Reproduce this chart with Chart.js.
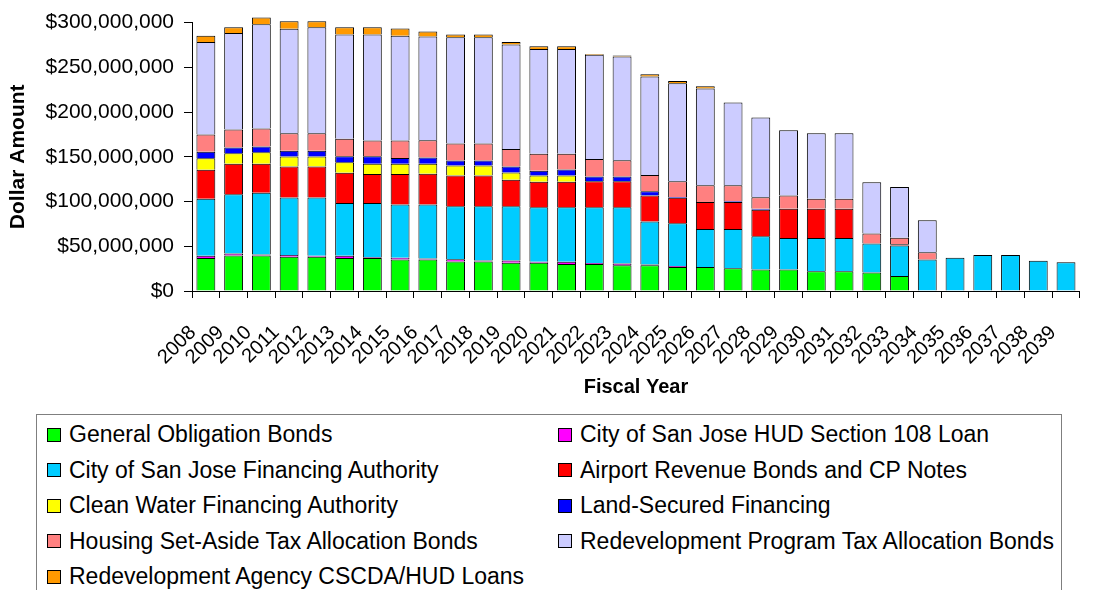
<!DOCTYPE html>
<html>
<head>
<meta charset="utf-8">
<script src="https://cdn.jsdelivr.net/npm/chart.js@4.4.1/dist/chart.umd.min.js"></script>
<style>
    html, body { margin: 0; padding: 0; width: 1098px; height: 590px; overflow: hidden; background: #fff; }
    #wrap { position: absolute; left: 0; top: 0; width: 1106px; height: 400px; }
    #legend {
        position: absolute; left: 36px; top: 414px; width: 1026px; height: 200px;
        border: 1px solid #7f7f7f; box-sizing: border-box;
        padding: 2px 0 0 10px;
        display: grid; grid-template-columns: 511px 1fr; grid-auto-rows: 35.5px;
        font-family: "Liberation Sans", Arial, sans-serif; font-size: 23px; color: #000;
    }
    .item { display: flex; align-items: center; white-space: nowrap; }
    .box { width: 12px; height: 12px; border: 1px solid #000; margin-right: 8px; flex: none; }
</style>
</head>
<body>
<div id="wrap"><canvas id="myChart"></canvas></div>
<div id="legend"></div>
<script>
// values in millions of dollars
const years = ['2008', '2009', '2010', '2011', '2012', '2013', '2014', '2015', '2016', '2017', '2018',
    '2019', '2020', '2021', '2022', '2023', '2024', '2025', '2026', '2027', '2028', '2029',
    '2030', '2031', '2032', '2033', '2034', '2035', '2036', '2037', '2038', '2039'];

const generalObligation = [36.8, 39.8, 39.8, 38.3, 38.3, 36.8, 36.8, 35.3, 35.3, 33.1, 33.1, 31.7, 31.7, 30.2, 30.2, 28.7,
    28.7, 26.9, 26.9, 25.4, 23.9, 23.9, 22.1, 22.1, 20.6, 16.9, null, null, null, null, null, null];
const hudSection108 = [2.5, 2.0, 1.0, 2.0, 1.0, 2.5, 1.0, 2.0, 1.0, 2.5, 1.0, 2.5, 1.0, 2.5, 1.0, 2.0,
    1.0, 1.0, null, null, null, null, null, null, null, null, null, null, null, null, null, null];
const financingAuthority = [63.7, 66.4, 68.9, 64.3, 65.3, 59.0, 60.5, 59.5, 60.5, 59.0, 60.5, 60.4, 60.8, 60.8, 62.3, 62.8,
    48.0, 47.9, 42.3, 43.8, 37.2, 35.4, 37.2, 37.2, 32.4, 33.9, 35.3, 37.2, 40.1, 40.1, 33.9, 32.0];
const airport = [32.5, 33.9, 32.4, 34.6, 34.6, 33.9, 32.4, 33.9, 34.3, 34.6, 34.6, 29.8, 28.7, 28.7, 29.1, 29.1,
    29.1, 28.4, 30.2, 30.2, 29.8, 32.7, 32.7, 32.7, null, 1.5, null, null, null, null, null, null];
const cleanWater = [12.9, 11.8, 12.9, 11.0, 11.0, 11.8, 11.4, 11.4, 11.0, 11.1, 11.1, 8.1, 7.0, 7.0, null, null,
    null, null, null, null, null, null, null, null, null, null, null, null, null, null, null, null];
const landSecured = [7.3, 6.6, 6.6, 6.6, 6.6, 6.6, 8.5, 6.6, 7.0, 5.5, 5.5, 6.7, 5.2, 6.7, 5.5, 5.5,
    4.8, 1.0, null, 1.0, 1.0, null, null, null, null, null, null, null, null, null, null, null];
const housingSetAside = [19.2, 19.9, 19.9, 19.6, 19.6, 19.5, 17.7, 19.6, 19.5, 19.1, 19.1, 19.5, 19.1, 17.6, 19.5, 18.1,
    18.0, 17.6, 18.8, 17.8, 13.0, 14.8, 11.1, 11.1, 11.4, 7.3, 8.1, null, null, null, null, null];
const redevelopmentTab = [103.4, 107.9, 116.7, 116.7, 118.5, 116.7, 118.5, 117.0, 116.0, 118.6, 118.6, 116.7, 117.1, 117.1, 116.4, 116.0,
    110.1, 109.4, 108.2, 92.4, 89.1, 72.9, 73.3, 73.3, 57.1, 56.7, 35.8, null, null, null, null, null];
const cscdaHud = [7.0, 6.6, 7.4, 8.4, 6.6, 8.1, 8.1, 8.1, 5.5, 3.3, 3.3, 3.0, 3.0, 3.0, 1.0, 1.0,
    2.5, 2.5, 2.5, null, null, null, null, null, null, null, null, null, null, null, null, null];

const yTicks = [0, 50, 100, 150, 200, 250, 300];

const font = '"Liberation Sans", Arial, sans-serif';

const series = [
    ['General Obligation Bonds', generalObligation, '#00ff00'],
    ['City of San Jose HUD Section 108 Loan', hudSection108, '#ff00ff'],
    ['City of San Jose Financing Authority', financingAuthority, '#00ccff'],
    ['Airport Revenue Bonds and CP Notes', airport, '#ff0000'],
    ['Clean Water Financing Authority', cleanWater, '#ffff00'],
    ['Land-Secured Financing', landSecured, '#0000ff'],
    ['Housing Set-Aside Tax Allocation Bonds', housingSetAside, '#ff8080'],
    ['Redevelopment Program Tax Allocation Bonds', redevelopmentTab, '#ccccff'],
    ['Redevelopment Agency CSCDA/HUD Loans', cscdaHud, '#ff9900'],
];

const dollars = (v) => '$' + String(Math.round(v * 1000000)).replace(/\B(?=(\d{3})+(?!\d))/g, ',');

let ctx = document.getElementById('myChart');
let myChart = new Chart(ctx, {
    type: 'bar',
    data: {
        labels: years,
        datasets: series.map(s => ({
            label: s[0],
            data: s[1],
            backgroundColor: s[2],
            borderColor: '#000',
            borderWidth: 1,
            barPercentage: 0.68,
            categoryPercentage: 1,
            clip: false
        }))
    },
    options: {
        responsive: true,
        maintainAspectRatio: false,
        animation: false,
        layout: { padding: { top: 19.5, right: 1, bottom: 1, left: 0 } },
        plugins: {
            legend: { display: false },
            tooltip: { enabled: false }
        },
        scales: {
            x: {
                stacked: true,
                grid: { drawOnChartArea: false, drawTicks: true, tickLength: 7, color: '#000' },
                border: { color: '#000', width: 1 },
                ticks: {
                    color: '#000', font: { family: font, size: 20 },
                    maxRotation: 45, minRotation: 45, autoSkip: false, padding: 23, labelOffset: -13
                },
                title: {
                    display: true, text: 'Fiscal Year', color: '#000',
                    font: { family: font, size: 20, weight: 'bold' }, padding: { top: 0, bottom: 0 }
                },
                afterFit: (scale) => { scale.height = 108; }
            },
            y: {
                stacked: true,
                min: 0,
                max: 300,
                afterBuildTicks: (scale) => { scale.ticks = yTicks.map(v => ({ value: v })); },
                grid: { drawOnChartArea: false, drawTicks: true, tickLength: 8, color: '#000' },
                border: { color: '#000', width: 1 },
                ticks: {
                    color: '#000', font: { family: font, size: 21 }, padding: 10,
                    callback: (v) => dollars(v)
                },
                title: {
                    display: true, text: 'Dollar Amount', color: '#000',
                    font: { family: font, size: 21, weight: 'bold' }, padding: { top: 6, bottom: 0 }
                },
                afterFit: (scale) => { scale.width = 192; }
            }
        }
    }
});

// two-column legend, same order as the datasets
const legendEl = document.getElementById('legend');
myChart.data.datasets.forEach(ds => {
    const item = document.createElement('div');
    item.className = 'item';
    const box = document.createElement('span');
    box.className = 'box';
    box.style.background = ds.backgroundColor;
    item.appendChild(box);
    item.appendChild(document.createTextNode(ds.label));
    legendEl.appendChild(item);
});
</script>
</body>
</html>
